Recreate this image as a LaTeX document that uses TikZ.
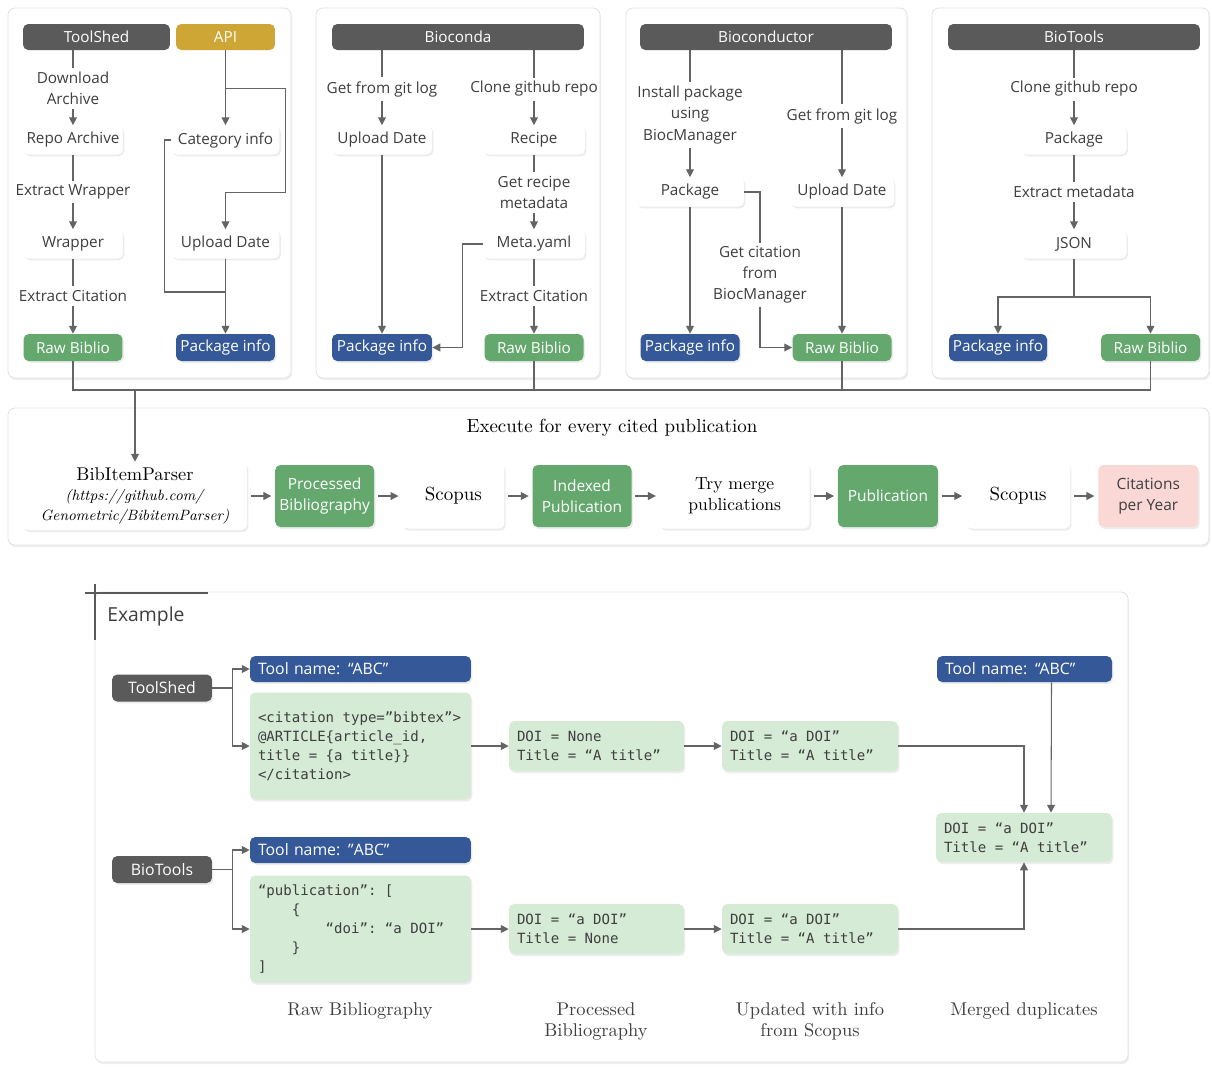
\documentclass[tikz,border=0pt]{standalone}
\usepackage{fontspec}
\setsansfont{Open Sans}
\setmonofont{DejaVu Sans Mono}
\usetikzlibrary{calc,chains,scopes,positioning,shadows,arrows.meta}

\definecolor{hdgray}{RGB}{90,90,90}
\definecolor{apigold}{RGB}{206,166,54}
\definecolor{bibgreen}{RGB}{100,168,110}
\definecolor{pkgblue}{RGB}{52,88,152}
\definecolor{codegreen}{RGB}{213,235,213}
\definecolor{citepink}{RGB}{250,216,214}
\definecolor{wiregray}{RGB}{100,100,100}
\definecolor{panelline}{RGB}{222,224,228}
\definecolor{txtgray}{RGB}{62,62,62}

\newcommand{\labelfont}{\sffamily\fontsize{8.7}{12}\selectfont}
\newcommand{\codefont}{\ttfamily\fontsize{8}{10.8}\selectfont}
% a space as wide as one code letter
\newcommand{\ks}{\hphantom{x}}
\newcommand{\fromhead}[3]{%
  \draw[link] (#2 |- #1.south) -- (#2);
  \draw[link, ->] (#2) -- (#3)}
\newcommand{\stepdown}[3]{%
  \draw[link] (#1) -- (#2);
  \draw[link, ->] (#2) -- (#3)}
\newcommand{\connectpointer}[2]{%
  \draw[link, ->] (#1) -- (#2)}
\newcommand{\flowto}[2]{%
  \draw[link, ->, shorten <=2pt, shorten >=2pt] (#1) -- (#2)}

\begin{document}
\begin{tikzpicture}[x=0.02cm, y=-0.02cm,
    >={Triangle[length=4.5pt, width=4.5pt]},
    link/.style={draw=wiregray, line width=0.6pt},
    panel/.style={draw=panelline, fill=white, rounded corners=4pt,
      drop shadow={shadow xshift=0.6pt, shadow yshift=-1.2pt, opacity=0.12}},
    head/.style={rectangle, rounded corners=3pt, fill=hdgray, text=white,
      minimum height=0.52cm, inner sep=0pt, font=\labelfont},
    card/.style={rectangle, rounded corners=3pt, fill=white, text=txtgray,
      minimum width=2cm, minimum height=0.58cm, inner sep=2pt, font=\labelfont,
      drop shadow={shadow xshift=0.8pt, shadow yshift=-1pt, opacity=0.15}},
    note/.style={inner sep=2pt, align=center, text=txtgray, font=\labelfont},
    tag/.style={rectangle, rounded corners=3pt, minimum width=1.98cm,
      minimum height=0.54cm, inner sep=0pt, text=white, font=\labelfont,
      drop shadow={shadow xshift=0.8pt, shadow yshift=-1pt, opacity=0.15}},
    biblio/.style={tag, fill=bibgreen},
    pkg/.style={tag, fill=pkgblue},
    stage/.style={rectangle, rounded corners=3pt, fill=white, text=black,
      minimum height=1.3cm, inner sep=2pt, align=center,
      font=\fontsize{10.8}{12}\selectfont,
      drop shadow={shadow xshift=0.8pt, shadow yshift=-1.2pt, opacity=0.15}},
    result/.style={rectangle, rounded corners=3pt, fill=bibgreen, text=white,
      minimum width=1.98cm, minimum height=1.24cm, inner sep=2pt, align=center,
      font=\sffamily\fontsize{8.8}{12}\selectfont,
      drop shadow={shadow xshift=0.8pt, shadow yshift=-1.2pt, opacity=0.15}},
    src/.style={rectangle, rounded corners=3pt, fill=hdgray, text=white,
      minimum width=2cm, minimum height=0.54cm, inner sep=0pt,
      font=\sffamily\fontsize{9}{10}\selectfont,
      drop shadow={shadow xshift=0.8pt, shadow yshift=-1pt, opacity=0.15}},
    toolname/.style={rectangle, rounded corners=3pt, fill=pkgblue, text=white,
      text width=4.1cm, inner xsep=0.16cm, inner ysep=0pt, minimum height=0.52cm,
      align=left, font=\sffamily\fontsize{9}{11}\selectfont,
      drop shadow={shadow xshift=0.8pt, shadow yshift=-1pt, opacity=0.15}},
    record/.style={rectangle, rounded corners=3pt, fill=codegreen, text=txtgray,
      inner xsep=0.16cm, inner ysep=2pt, align=left, font=\codefont,
      drop shadow={shadow xshift=0.8pt, shadow yshift=-1.2pt, opacity=0.15}},
    caption/.style={align=center, text=txtgray, font=\fontsize{10.5}{12}\selectfont}]

  \useasboundingbox (0,0) rectangle (1212,1066);
  \fill[white] (0,0) rectangle (1212,1066);

  % harvesting panels
  \draw[panel] (8,8) rectangle (291,378);
  \draw[panel] (316,8) rectangle (600,378);
  \draw[panel] (626,8) rectangle (907,378);
  \draw[panel] (932,8) rectangle (1209,378);

  % ToolShed
  \node[head, minimum width=2.94cm] (ts) at (96.5,37) {ToolShed};
  \node[head, minimum width=1.98cm, fill=apigold] (api) at (225.5,37) {API};
  \node[note] (dla) at (73,88.5) {Download\\Archive};
  \node[card] (repo) at (73,140) {Repo Archive};
  \node[note] (exw) at (73,192) {Extract Wrapper};
  \node[card] (wrap) at (73,244) {Wrapper};
  \node[note] (exc) at (73,296) {Extract Citation};
  \node[biblio] (rb1) at (73,347.5) {Raw Biblio};
  \node[card, minimum width=2.16cm] (cat) at (225.5,140) {Category info};
  \node[card, minimum width=2.16cm] (upd1) at (225.5,244) {Upload Date};
  \node[pkg] (pk1) at (225.5,347.5) {Package info};
  \coordinate (join1) at (225.5,292);

  \fromhead{ts}{dla}{repo};
  \stepdown{repo}{exw}{wrap};
  \stepdown{wrap}{exc}{rb1};
  \connectpointer{api}{cat};
  \draw[link, ->] (api.south) ++(0,38) -- ++(60,0) -- ++(0,104) -| (upd1);
  \draw[link] (cat.west) -- ++(-7,0) -- ++(0,152) -- (join1);
  \connectpointer{upd1}{pk1};

  % Bioconda
  \node[head, minimum width=5.04cm] (bcn) at (458,37) {Bioconda};
  \node[note] (gfl1) at (382,89) {Get from git log};
  \node[card] (upd2) at (382,140) {Upload Date};
  \node[pkg, minimum width=2cm] (pk2) at (382,347.5) {Package info};
  \node[note] (cgr1) at (534,89) {Clone github repo};
  \node[card, minimum width=2.04cm] (rcp) at (534,140) {Recipe};
  \node[note] (grm) at (534,192.5) {Get recipe\\metadata};
  \node[card, minimum width=2.04cm] (meta) at (534,244) {Meta.yaml};
  \node[note] (exc2) at (534,296) {Extract Citation};
  \node[biblio] (rb2) at (534,347.5) {Raw Biblio};

  \fromhead{bcn}{gfl1}{upd2};
  \connectpointer{upd2}{pk2};
  \fromhead{bcn}{cgr1}{rcp};
  \stepdown{rcp}{grm}{meta};
  \stepdown{meta}{exc2}{rb2};
  \draw[link, ->] (meta.west) -- ++(-20,0) |- (pk2);

  % Bioconductor
  \node[head, minimum width=5.04cm] (bcd) at (766,37) {Bioconductor};
  \node[note] (ipu) at (690,115) {Install package\\using\\BiocManager};
  \node[card, minimum width=2.16cm] (pkg3) at (690,192) {Package};
  \node[pkg] (pk3) at (690,347.5) {Package info};
  \node[note] (gfl2) at (842,116) {Get from git log};
  \node[card, minimum width=2.08cm] (upd3) at (842,192) {Upload Date};
  \node[biblio] (rb3) at (842,347.5) {Raw Biblio};
  \node[note] (gcb) at (760,275) {Get citation\\from\\BiocManager};

  \fromhead{bcd}{ipu}{pkg3};
  \connectpointer{pkg3}{pk3};
  \fromhead{bcd}{gfl2}{upd3};
  \connectpointer{upd3}{rb3};
  \draw[link] (pkg3.east) -| (gcb);
  \draw[link, ->] (gcb) |- (rb3);

  % BioTools
  \node[head, minimum width=5.04cm] (btl) at (1074,37) {BioTools};
  \node[note] (cgr2) at (1074,89) {Clone github repo};
  \node[card, minimum width=2.1cm] (pkg4) at (1074,140) {Package};
  \node[note] (exm) at (1074,192) {Extract metadata};
  \node[card, minimum width=2.1cm] (json) at (1074,244) {JSON};
  \node[pkg, minimum width=1.96cm] (pk4) at (998,347.5) {Package info};
  \node[biblio] (rb4) at (1150.5,347.5) {Raw Biblio};
  \coordinate (fork4) at (1074,297);

  \fromhead{btl}{cgr2}{pkg4};
  \stepdown{pkg4}{exm}{json};
  \draw[link] (json) -- (fork4);
  \draw[link, ->] (fork4) -| (pk4);
  \draw[link, ->] (fork4) -| (rb4);

  % collect every raw bibliography
  \coordinate (bus) at (0,390);
  \draw[link] (rb1) -- (rb1 |- bus) -- (rb4 |- bus) -- (rb4);
  \draw[link] (rb2) -- (rb2 |- bus);
  \draw[link] (rb3) -- (rb3 |- bus);

  % per publication
  \draw[panel] (8,408) rectangle (1209,545);
  \node[font=\fontsize{10.8}{13}\selectfont] (loop) at (612,428)
    {Execute for every cited publication};
  {[start chain=going right, node distance=0.55cm]
    \node[stage, on chain, minimum width=4.48cm, minimum height=1.36cm,
      font=\fontsize{8.5}{11.4}\selectfont] (bip) at (135,496)
      {{\fontsize{10.5}{11.4}\selectfont BibItemParser}\\
       \textit{(https://github.com/}\\\textit{Genometric/BibitemParser)}};
    \node[result, on chain] (pbib) {Processed\\Bibliography};
    \node[stage, on chain, minimum width=2.04cm] (scp1) {Scopus};
    \node[result, on chain] (ipub) {Indexed\\Publication};
    \node[stage, on chain, minimum width=3cm, font=\fontsize{10}{12}\selectfont]
      (merge) {Try merge\\publications};
    \node[result, on chain, minimum width=2cm] (pub) {Publication};
    \node[stage, on chain, minimum width=2.08cm] (scp2) {Scopus};
    \node[result, on chain, minimum width=2cm, fill=citepink, text=txtgray]
      (cpy) {Citations\\per Year};

    \flowto{bip}{pbib};
    \flowto{pbib}{scp1};
    \flowto{scp1}{ipub};
    \flowto{ipub}{merge};
    \flowto{merge}{pub};
    \flowto{pub}{scp2};
    \flowto{scp2}{cpy};}
  \draw[link, ->] (bip |- bus) -- (bip);

  % example
  \draw[panel] (95,592) rectangle (1128,1062);
  \draw[line width=1.3pt, hdgray] (85,593) -- (208,593) (95,584) -- (95,640);
  \node[anchor=west, inner sep=0pt, text=txtgray,
    font=\sffamily\fontsize{11}{13}\selectfont] (extitle) at (107,616) {Example};

  \node[src] (exts) at (162,688) {ToolShed};
  \node[toolname] (tn1) at (360.5,669) {Tool name: “ABC”};
  \node[record, text width=4.1cm, minimum height=2.14cm] (cite1) at (360.5,746)
    {<citation\ks type=”bibtex”>\\@ARTICLE\{article\_id,\\
     title\ks=\ks\{a\ks title\}\}\\</citation>};
  \node[record, text width=3.18cm, minimum height=1cm] (dn1) at (596.5,746)
    {DOI\ks=\ks None\\Title\ks=\ks“A\ks title”};
  \node[record, text width=3.2cm, minimum height=1cm] (scu1) at (810,746)
    {DOI\ks=\ks“a\ks DOI”\\Title\ks=\ks“A\ks title”};
  \node[toolname, text width=3.18cm] (tn2) at (1024.5,669) {Tool name: “ABC”};
  \node[record, text width=3.2cm, minimum height=0.98cm] (mrg) at (1024,837.5)
    {DOI\ks=\ks“a\ks DOI”\\Title\ks=\ks“A\ks title”};

  \node[src] (exbt) at (162,869.5) {BioTools};
  \node[toolname] (tn3) at (360.5,850) {Tool name: "ABC"};
  \node[record, text width=4.1cm, minimum height=2.14cm] (cite2) at (360.5,929)
    {“publication”:\ks[\\\phantom{0000}\{\\
     \phantom{00000000}“doi”:\ks“a\ks DOI”\\\phantom{0000}\}\\]};
  \node[record, text width=3.18cm, minimum height=1cm] (dn2) at (596.5,929)
    {DOI\ks=\ks“a\ks DOI”\\Title\ks=\ks None};
  \node[record, text width=3.2cm, minimum height=1cm] (scu2) at (810,929)
    {DOI\ks=\ks“a\ks DOI”\\Title\ks=\ks“A\ks title”};

  \draw[link, ->] (exts.east) -- ++(20,0) |- (tn1);
  \draw[link, ->] (exts.east) -- ++(20,0) |- (cite1);
  \connectpointer{cite1}{dn1};
  \connectpointer{dn1}{scu1};
  \draw[link, ->] (scu1) -| (mrg);
  \draw[link, ->] ($(tn2.south)+(27,0)$) -- ($(mrg.north)+(27,0)$);

  \draw[link, ->] (exbt.east) -- ++(20,0) |- (tn3);
  \draw[link, ->] (exbt.east) -- ++(20,0) |- (cite2);
  \connectpointer{cite2}{dn2};
  \connectpointer{dn2}{scu2};
  \draw[link, ->] (scu2) -| (mrg);

  \node[caption] (capraw) at (360,1011) {Raw Bibliography};
  \node[caption] (capproc) at (596,1021.5) {Processed\\Bibliography};
  \node[caption] (capupd) at (810,1021.5) {Updated with info\\from Scopus};
  \node[caption] (capmrg) at (1024,1011) {Merged duplicates};
\end{tikzpicture}
\end{document}
